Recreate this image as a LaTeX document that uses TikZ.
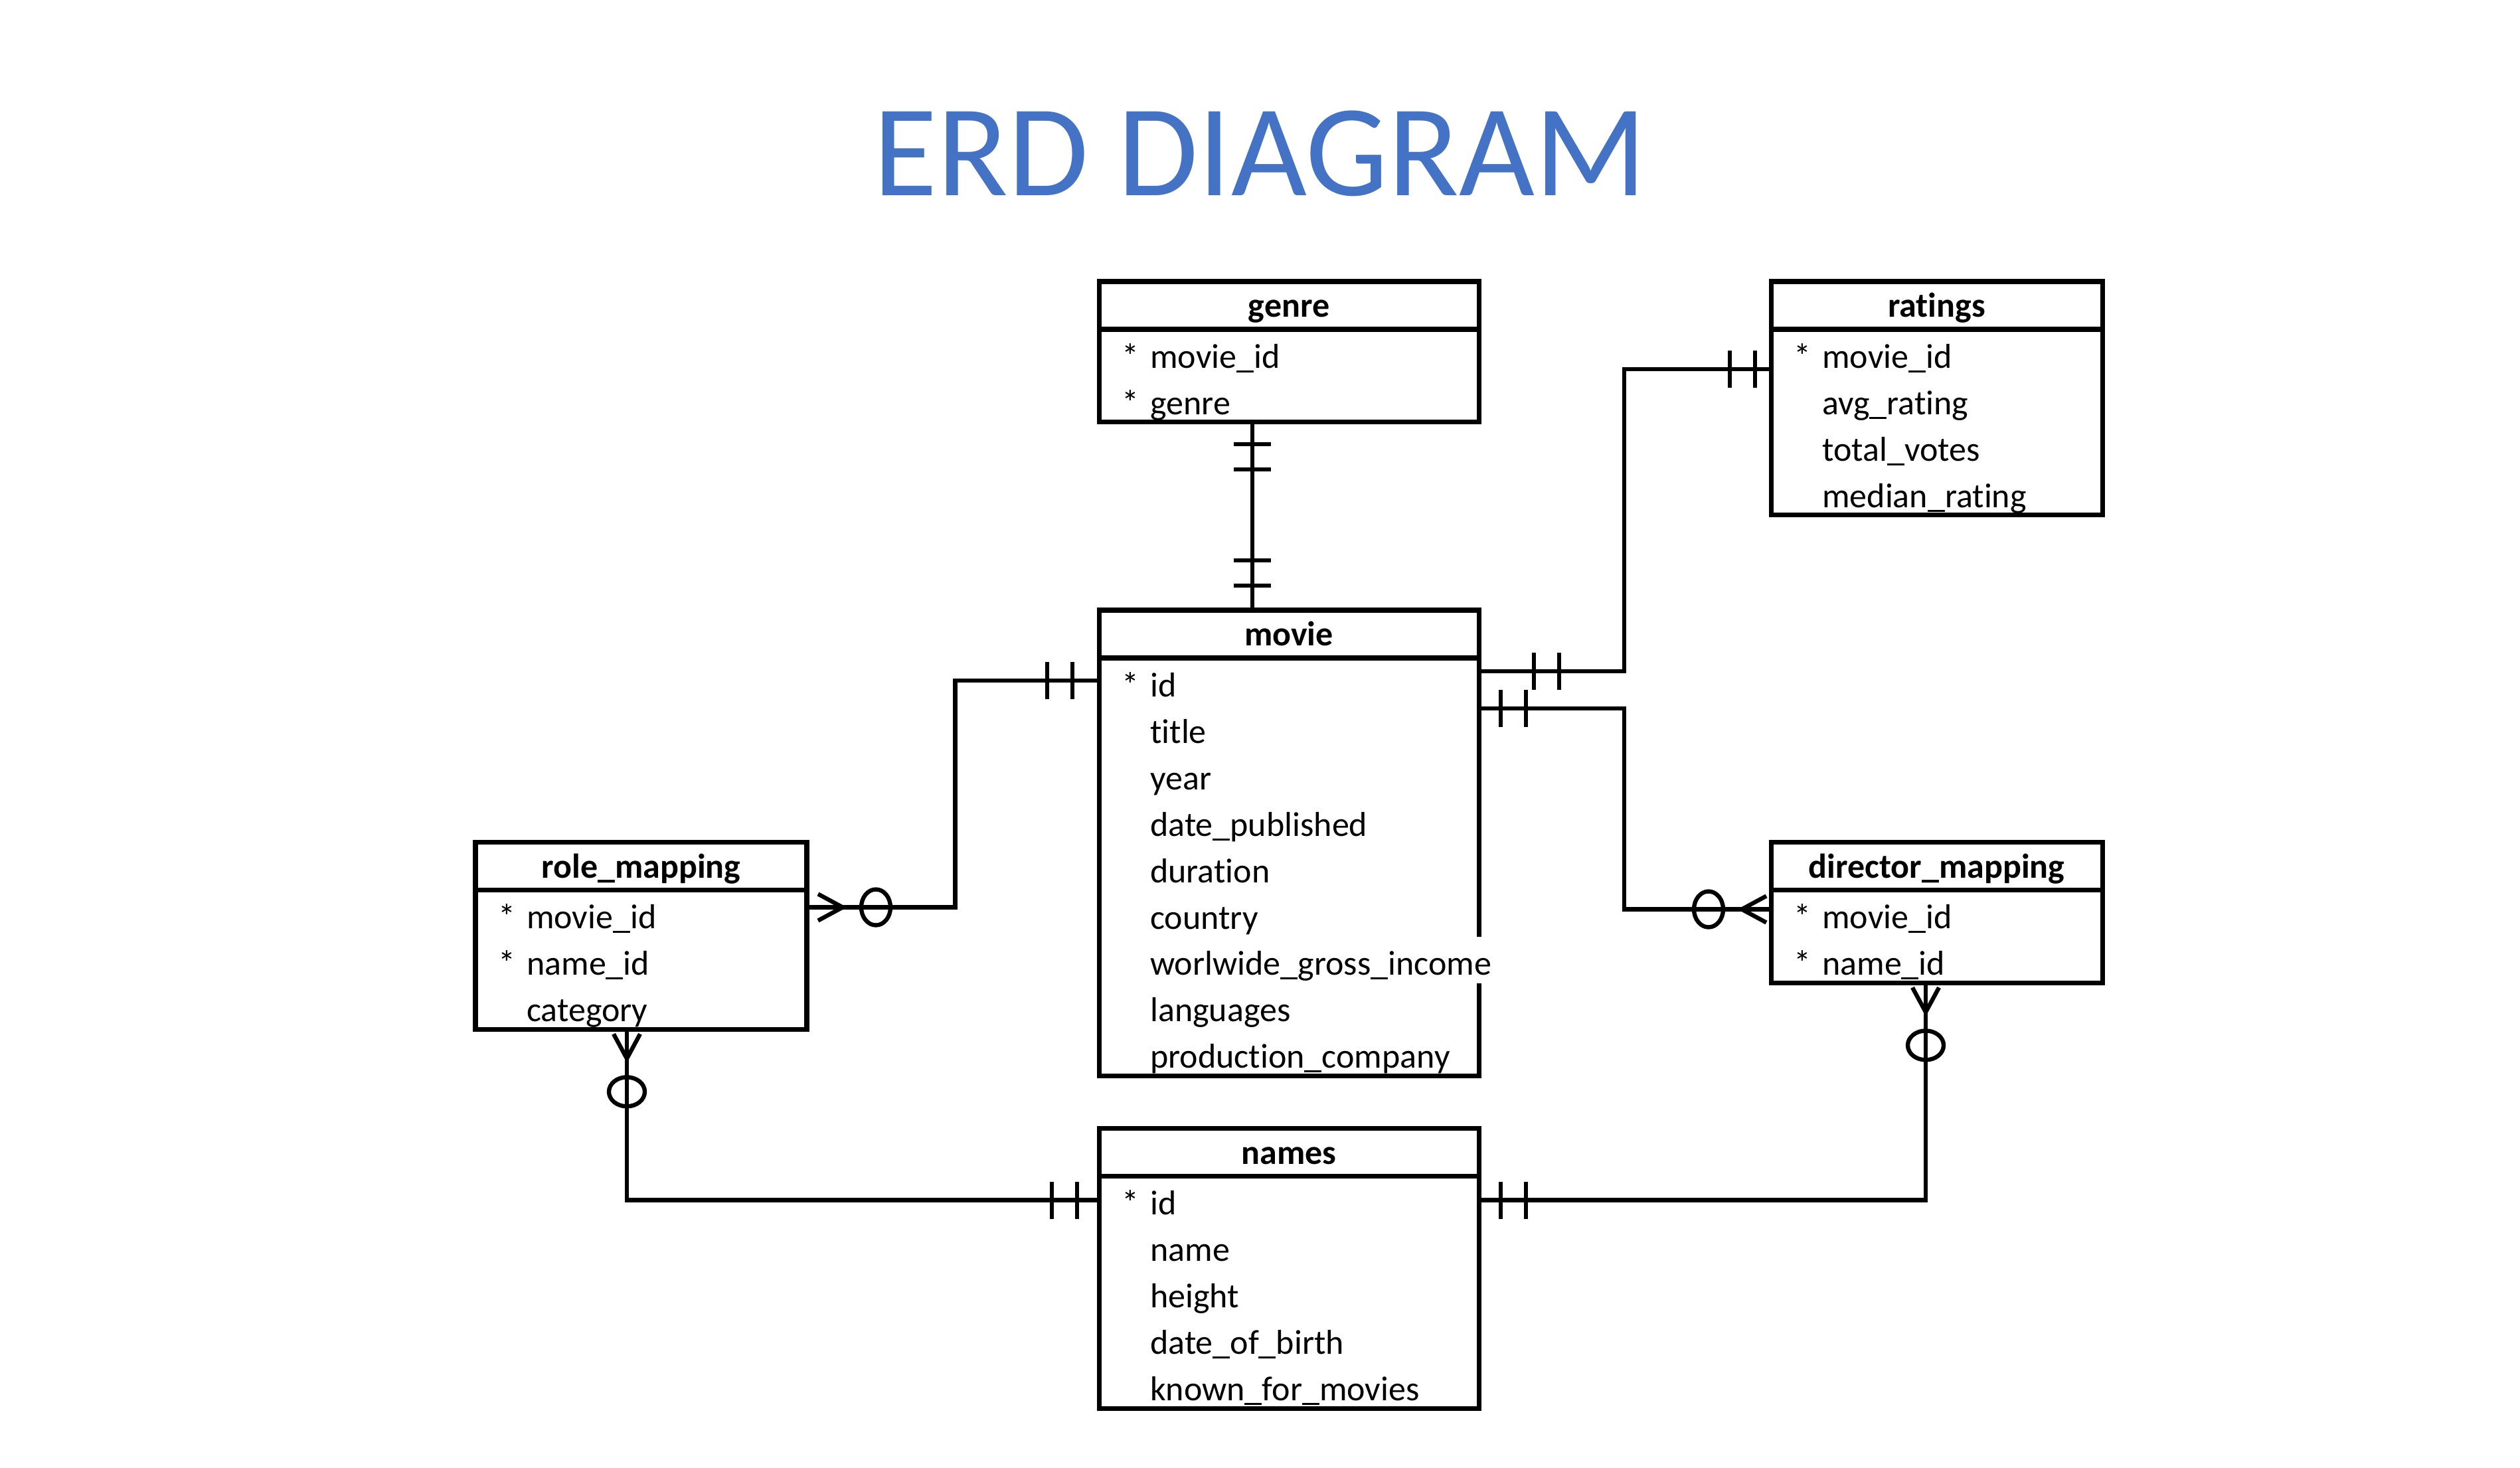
\documentclass[tikz,border=0pt]{standalone}
\usepackage{fontspec}
\setmainfont{Carlito}[Ligatures=NoCommon]
\usetikzlibrary{positioning}
\definecolor{titleblue}{HTML}{4472C4}
\newcommand{\rowstrut}{\rule[-3.3pt]{0pt}{19.9pt}}
\newcommand{\keyrow}[1]{\rowstrut*\ #1}
\newcommand{\plainrow}[1]{\rowstrut\phantom{*\ }#1}
\tikzset{
tablehead/.style={draw, line width=2pt, outer sep=0pt, inner sep=0pt,
  minimum width=#1, minimum height=0.72cm, text depth=0pt, text height=10pt,
  font=\fontsize{14.8}{19.9}\selectfont\bfseries}, % table name
tablebody/.style={draw, line width=2pt, outer sep=0pt, inner xsep=0.34cm,
  inner ysep=0pt, text width=#1, align=left,
  font=\fontsize{14.8}{19.9}\selectfont}, % one row per column
relation/.style={line width=1.8pt},
onlyone/.pic={
  \draw[relation] (0.33,-0.28) -- (0.33,0.28) (0.71,-0.28) -- (0.71,0.28);
},
zeromany/.pic={
  \draw[relation] (0.07,0.2) -- (0.44,0) -- (0.07,-0.2);
  \draw[relation] (0.94,0) ellipse [x radius=0.22, y radius=0.27];
},
}

\begin{document}
\begin{tikzpicture}
        \useasboundingbox (0,0) rectangle (37.95,-22.11);
        \node[font=\fontsize{56}{60}\selectfont, text=titleblue, anchor=base] (title) at (18.975,-2.94) {ERD DIAGRAM};

        \node[tablehead=5.72cm] (genre-h) at (19.41,-4.60) {genre};
        \node[tablebody=5.04cm] (genre-b) [below=0pt of genre-h]
          {\keyrow{movie\_id}\\ \keyrow{genre}};
        \node[tablehead=4.99cm] (ratings-h) at (29.165,-4.60) {ratings};
        \node[tablebody=4.31cm] (ratings-b) [below=0pt of ratings-h]
          {\keyrow{movie\_id}\\ \plainrow{avg\_rating}\\ \plainrow{total\_votes}\\ \plainrow{median\_rating}};
        \node[tablehead=5.72cm] (movie-h) at (19.41,-9.55) {movie};
        \node[tablebody=5.04cm] (movie-b) [below=0pt of movie-h]
          {\keyrow{id}\\ \plainrow{title}\\ \plainrow{year}\\ \plainrow{date\_published}\\ \plainrow{duration}\\
           \plainrow{country}\\ \plainrow{{\fboxsep=0pt\colorbox{white}{\rowstrut worlwide\_gross\_income}}}\\
           \plainrow{languages}\\ \plainrow{production\_company}};
        \node[tablehead=4.99cm] (role-h) at (9.655,-13.045) {role\_mapping};
        \node[tablebody=4.31cm] (role-b) [below=0pt of role-h]
          {\keyrow{movie\_id}\\ \keyrow{name\_id}\\ \plainrow{category}};
        \node[tablehead=4.99cm] (dir-h) at (29.165,-13.045) {director\_mapping};
        \node[tablebody=4.31cm] (dir-b) [below=0pt of dir-h]
          {\keyrow{movie\_id}\\ \keyrow{name\_id}};
        \node[tablehead=5.72cm] (names-h) at (19.41,-17.355) {names};
        \node[tablebody=5.04cm] (names-b) [below=0pt of names-h]
          {\keyrow{id}\\ \plainrow{name}\\ \plainrow{height}\\ \plainrow{date\_of\_birth}\\ \plainrow{known\_for\_movies}};

        % relationships
        \draw[relation] ([xshift=-0.55cm]genre-b.south) -- ([xshift=-0.55cm]movie-h.north);
        \draw[relation] ([yshift=-0.20cm]movie-b.north east) -- ++(2.19,0) |- ([yshift=-0.60cm]ratings-b.north west);
        \draw[relation] ([yshift=-0.76cm]movie-b.north east) -- ++(2.19,0) |- ([yshift=-0.29cm]dir-b.north west);
        \draw[relation] ([yshift=-0.34cm]movie-b.north west) -- ++(-2.165,0) |- ([yshift=-0.26cm]role-b.north east);
        \draw[relation] ([xshift=-0.215cm]role-b.south) |- ([yshift=-0.36cm]names-b.north west);
        \draw[relation] ([yshift=-0.36cm]names-b.north east) -| ([xshift=-0.165cm]dir-b.south);

        % cardinalities
        \pic[rotate=-90] at ([xshift=-0.55cm]genre-b.south) {onlyone};
        \pic[rotate=90] at ([xshift=-0.55cm,yshift=0.04cm]movie-h.north) {onlyone};
        \pic at ([xshift=0.5cm,yshift=-0.20cm]movie-b.north east) {onlyone};
        \pic[rotate=180] at ([xshift=0.09cm,yshift=-0.60cm]ratings-b.north west) {onlyone};
        \pic at ([yshift=-0.76cm]movie-b.north east) {onlyone};
        \pic[rotate=180] at ([yshift=-0.29cm]dir-b.north west) {zeromany};
        \pic[rotate=180] at ([xshift=-0.07cm,yshift=-0.34cm]movie-b.north west) {onlyone};
        \pic at ([xshift=0.1cm,yshift=-0.26cm]role-b.north east) {zeromany};
        \pic[rotate=-90] at ([xshift=-0.215cm]role-b.south) {zeromany};
        \pic[rotate=180] at ([yshift=-0.36cm]names-b.north west) {onlyone};
        \pic at ([yshift=-0.36cm]names-b.north east) {onlyone};
        \pic[rotate=-90] at ([xshift=-0.165cm]dir-b.south) {zeromany};
\end{tikzpicture}
\end{document}
